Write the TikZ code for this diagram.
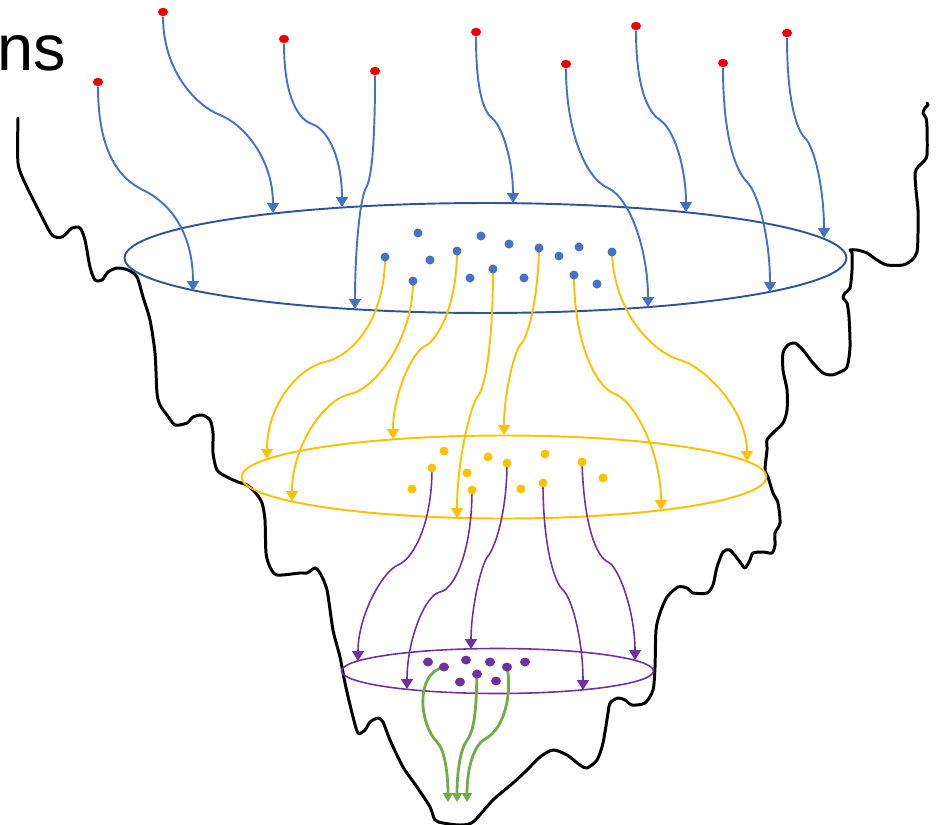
\documentclass[tikz,border=0pt]{standalone}
\usepackage{fontspec}
\setmainfont{Liberation Sans}
\usetikzlibrary{arrows.meta,shapes.geometric}
\definecolor{srcred}{RGB}{240,0,0}
\definecolor{flowblue}{RGB}{68,114,196}
\definecolor{ringblue}{RGB}{47,85,151}
\definecolor{lvlgold}{RGB}{255,192,0}
\definecolor{lvlpurple}{RGB}{112,48,160}
\definecolor{lvlgreen}{RGB}{112,173,71}
\begin{document}
\begin{tikzpicture}[x=0.02cm,y=-0.02cm,
  srcdot/.style={ellipse,fill=srcred,inner sep=0pt,minimum width=0.2cm,minimum height=0.17cm},
  bluedot/.style={circle,fill=flowblue,inner sep=0pt,minimum size=0.18cm},
  golddot/.style={circle,fill=lvlgold,inner sep=0pt,minimum size=0.18cm},
  purpledot/.style={ellipse,fill=lvlpurple,inner sep=0pt,minimum width=0.2cm,minimum height=0.18cm},
  ring/.style={draw,ellipse,inner sep=0pt,line width=1.1pt},
  bflow/.style={flowblue,line width=1.1pt,-{Triangle[length=0.2cm,width=0.24cm]}},
  yflow/.style={lvlgold,line width=1.1pt,-{Triangle[length=0.2cm,width=0.24cm]}},
  pflow/.style={lvlpurple,line width=0.9pt,-{Triangle[length=0.2cm,width=0.24cm]}},
  gflow/.style={lvlgreen,line width=1.6pt,-{Triangle[length=0.18cm,width=0.2cm]}},
  coast/.style={black,line width=1.7pt,line join=round,line cap=round}]

\useasboundingbox (0,0) rectangle (937,825);

% heading fragment
\node[anchor=base west,inner sep=0pt,font=\fontsize{37}{42}\selectfont] (head) at (-3,70) {ns};

% outline of the funnel
\draw[coast] plot[smooth,tension=0.45] coordinates {
(18,118) (18,163) (25,183) (40,213) (52,235) (62,237) (72,228) (80,228) (85,240) (90,267) (95,280)
(102,280) (108,272) (117,268) (128,270) (137,277) (143,297) (150,320) (155,353) (157,393) (160,405)
(167,415) (175,425) (187,423) (193,417) (202,415) (210,420) (213,433) (213,453) (217,470) (227,477)
(238,482) (247,485) (255,492) (262,503) (265,520) (266,553) (270,567) (277,575) (300,573) (307,573)
(315,568) (320,573) (327,590) (333,630) (340,657) (345,683) (352,713) (358,733) (365,730) (370,722)
(378,718) (383,722) (390,740) (403,767) (417,787) (430,807) (435,820) (443,823) (460,825) (473,822)
(493,800) (513,783) (527,770) (540,757) (553,750) (567,755) (580,765) (587,768) (597,760) (603,743)
(608,713) (610,703) (618,698) (625,700) (632,705) (645,703) (653,690) (655,667) (656,630) (660,613)
(667,597) (678,587) (687,588) (693,593) (707,593) (713,585) (717,567) (723,552) (730,550) (740,562)
(745,568) (750,560) (753,553) (763,552) (772,553) (775,545) (775,533) (780,523) (778,503) (773,493)
(768,477) (765,470) (767,450) (767,440) (773,433) (783,423) (787,410) (787,390) (783,370) (783,353)
(788,345) (795,343) (803,350) (813,363) (823,373) (832,375) (840,372) (847,367) (850,347) (849,317)
(847,303) (843,298) (845,293) (850,288) (852,270) (852,253) (850,250) (857,250) (867,253) (877,260)
(887,265) (903,265) (912,260) (917,252) (918,233) (918,210) (916,190) (915,173) (918,167) (923,162)
(927,155) (927,127) (926,118) (923,113) (925,108) (928,105) (927,103)};

% the three levels
\node[ring,draw=ringblue,minimum width=14.44cm,minimum height=2.2cm] (L1) at (485.5,258) {};
\node[ring,draw=lvlgold,minimum width=10.5cm,minimum height=1.66cm] (L2) at (504,477) {};
\node[ring,draw=lvlpurple,line width=0.9pt,minimum width=6.24cm,minimum height=0.9cm] (L3) at (497.5,671) {};

% sources
\node[srcdot] (r1) at (98,82) {};
\node[srcdot] (r2) at (163,12) {};
\node[srcdot] (r3) at (284,39) {};
\node[srcdot] (r4) at (375,71) {};
\node[srcdot] (r5) at (476,32) {};
\node[srcdot] (r6) at (566,64) {};
\node[srcdot] (r7) at (636,26) {};
\node[srcdot] (r8) at (723,63) {};
\node[srcdot] (r9) at (787,33) {};

% blue level points
\foreach \n/\p in {1/{418,233},2/{481,236},3/{509,244},4/{539,248},5/{559,256},6/{579,247},7/{612,252},8/{385,257},
  9/{430,260},10/{457,251},11/{493,269},12/{470,278},13/{524,278},14/{574,275},15/{597,284},16/{413,281}}
  \coordinate (b\n) at (\p);

% gold level points
\foreach \n/\p in {1/{444,451},2/{488,457},3/{507,463},4/{432,468},5/{467,473},6/{412,489},7/{472,490},
  8/{545,454},9/{582,462},10/{603,478},11/{543,483},12/{521,489}}
  \coordinate (y\n) at (\p);

% purple level points
\foreach \n/\p in {1/{428,662},2/{444,667},3/{466,660},4/{490,662},5/{507,667},6/{525,662},7/{460,682},8/{477,674},9/{496,681}}
  \coordinate (p\n) at (\p);

% arrow ends and bends
\coordinate (bt1) at (193,291); \coordinate (bk1) at (143,190);
\coordinate (bt2) at (273,213); \coordinate (bk2) at (220,115);
\coordinate (bt3) at (342,207); \coordinate (bk3) at (312,124);
\coordinate (bt4) at (355,309); \coordinate (bk4) at (366,188);
\coordinate (bt5) at (513,203); \coordinate (bk5) at (492,118);
\coordinate (bt6) at (648,307); \coordinate (bk6) at (608,188);
\coordinate (bt7) at (686,212); \coordinate (bk7) at (660,120);
\coordinate (bt8) at (770,292); \coordinate (bk8) at (747,182);
\coordinate (bt9) at (824,238); \coordinate (bk9) at (805,138);

\coordinate (yt1) at (267,459); \coordinate (yk1) at (325,362);
\coordinate (yt2) at (292,501); \coordinate (yk2) at (350,394);
\coordinate (yt3) at (393,439); \coordinate (yk3) at (425,346);
\coordinate (yt4) at (457,518); \coordinate (yk4) at (478,396);
\coordinate (yt5) at (504,435); \coordinate (yk5) at (521,344);
\coordinate (yt6) at (661,510); \coordinate (yk6) at (615,394);
\coordinate (yt7) at (747,461); \coordinate (yk7) at (680,360);

\coordinate (pt1) at (358,661); \coordinate (pk1) at (398,565);
\coordinate (pt2) at (407,689); \coordinate (pk2) at (440,592);
\coordinate (pt3) at (471,649); \coordinate (pk3) at (488,556);
\coordinate (pt4) at (583,690); \coordinate (pk4) at (563,590);
\coordinate (pt5) at (635,660); \coordinate (pk5) at (608,562);

\coordinate (gt1) at (448,802); \coordinate (gk1) at (437,742);
\coordinate (gt2) at (457,802); \coordinate (gk2) at (466,742);
\coordinate (gt3) at (467,802); \coordinate (gk3) at (485,739);

% sources to the blue level
\draw[bflow] (r1) .. controls (98,150) and (118,178) .. (bk1) .. controls (168,202) and (193,230) .. (bt1);
\draw[bflow] (r2) .. controls (163,70) and (195,105) .. (bk2) .. controls (245,125) and (273,160) .. (bt2);
\draw[bflow] (r3) .. controls (284,90) and (295,118) .. (bk3) .. controls (329,130) and (342,160) .. (bt3);
\draw[bflow] (r4) .. controls (375,140) and (372,178) .. (bk4) .. controls (360,198) and (355,250) .. (bt4);
\draw[bflow] (r5) .. controls (476,85) and (482,110) .. (bk5) .. controls (502,126) and (513,160) .. (bt5);
\draw[bflow] (r6) .. controls (566,130) and (585,178) .. (bk6) .. controls (630,198) and (648,250) .. (bt6);
\draw[bflow] (r7) .. controls (636,80) and (645,110) .. (bk7) .. controls (675,130) and (686,170) .. (bt7);
\draw[bflow] (r8) .. controls (723,135) and (735,170) .. (bk8) .. controls (759,194) and (770,240) .. (bt8);
\draw[bflow] (r9) .. controls (787,95) and (795,128) .. (bk9) .. controls (815,148) and (824,190) .. (bt9);

% blue level to the gold level
\draw[yflow] (b8) .. controls (385,320) and (352,356) .. (yk1) .. controls (298,368) and (267,405) .. (yt1);
\draw[yflow] (b16) .. controls (413,340) and (375,389) .. (yk2) .. controls (325,399) and (292,445) .. (yt2);
\draw[yflow] (b10) .. controls (457,305) and (438,340) .. (yk3) .. controls (412,352) and (393,395) .. (yt3);
\draw[yflow] (b11) .. controls (493,345) and (485,388) .. (yk4) .. controls (471,404) and (457,460) .. (yt4);
\draw[yflow] (b4) .. controls (538,300) and (528,337) .. (yk5) .. controls (514,351) and (504,395) .. (yt5);
\draw[yflow] (b14) .. controls (574,345) and (597,388) .. (yk6) .. controls (633,400) and (661,450) .. (yt6);
\draw[yflow] (b7) .. controls (614,315) and (655,353) .. (yk7) .. controls (705,367) and (747,410) .. (yt7);

% gold level to the purple level
\draw[pflow] (y4) .. controls (432,525) and (413,559) .. (pk1) .. controls (383,571) and (358,615) .. (pt1);
\draw[pflow] (y7) .. controls (472,550) and (455,589) .. (pk2) .. controls (425,595) and (407,640) .. (pt2);
\draw[pflow] (y3) .. controls (507,512) and (495,548) .. (pk3) .. controls (481,564) and (471,610) .. (pt3);
\draw[pflow] (y11) .. controls (543,545) and (554,582) .. (pk4) .. controls (572,598) and (583,640) .. (pt4);
\draw[pflow] (y9) .. controls (584,528) and (597,557) .. (pk5) .. controls (619,567) and (635,612) .. (pt5);

% purple level to the bottom
\draw[gflow] (p2) .. controls (414,674) and (420,725) .. (gk1) .. controls (445,750) and (448,775) .. (gt1);
\draw[gflow] (p8) .. controls (476,710) and (475,730) .. (gk2) .. controls (461,749) and (457,770) .. (gt2);
\draw[gflow] (p5) .. controls (512,690) and (506,728) .. (gk3) .. controls (474,745) and (467,768) .. (gt3);

% dots on top of the flows
\foreach \n in {1,...,16} \node[bluedot] (bd\n) at (b\n) {};
\foreach \n in {1,...,12} \node[golddot] (yd\n) at (y\n) {};
\foreach \n in {1,...,9} \node[purpledot] (pd\n) at (p\n) {};

\end{tikzpicture}
\end{document}
